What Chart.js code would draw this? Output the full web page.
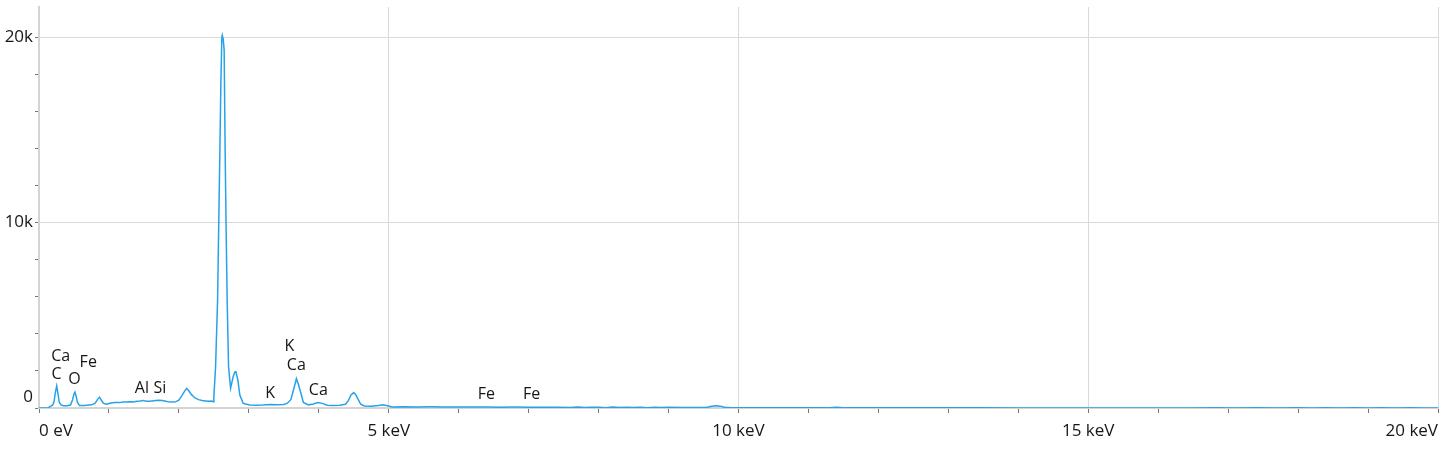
<!DOCTYPE html>
<html>
<head>
<meta charset="utf-8">
<script src="https://cdn.jsdelivr.net/npm/chart.js@4/dist/chart.umd.min.js"></script>
<style>
html,body{margin:0;padding:0;background:#fff;}
#c{display:block;}
</style>
</head>
<body>
<canvas id="c" width="1445" height="450"></canvas>
<script>
// Spectrum: energy (keV) and counts
const energies = [
 0.00,0.05,0.10,0.14,0.15,0.17,0.195,0.215,0.235,0.253,0.270,0.290,0.315,0.35,0.40,
 0.45,0.48,0.50,0.514,0.53,0.55,0.58,0.65,0.75,0.80,0.84,0.865,0.89,0.92,0.96,
 1.00,1.05,1.10,1.15,1.20,1.25,1.30,1.35,1.40,1.45,1.49,1.53,1.58,1.62,1.67,1.72,1.76,1.80,1.85,1.90,1.95,
 2.00,2.04,2.08,2.11,2.14,2.18,2.23,2.28,2.33,2.38,2.43,2.47,2.49,
 2.50,2.524,2.553,2.571,2.586,2.600,2.614,2.620,2.633,2.647,2.661,2.676,2.690,2.710,2.739,
 2.776,2.800,2.814,2.843,2.871,2.919,3.014,3.10,3.20,3.30,3.40,3.50,
 3.55,3.60,3.64,3.68,3.71,3.74,3.78,3.85,3.92,3.99,4.05,4.12,4.20,4.30,
 4.38,4.42,4.46,4.50,4.53,4.56,4.60,4.65,4.75,4.85,4.92,4.98,5.05,
 5.2,5.4,5.6,5.8,6.0,6.2,6.4,6.6,6.8,7.0,7.2,7.4,7.6,7.7,7.8,7.9,8.0,8.1,8.2,8.3,8.4,8.5,8.6,8.7,8.8,8.9,9.0,9.2,9.4,
 9.55,9.62,9.68,9.74,9.80,9.9,10.0,10.3,10.6,11.0,11.3,11.4,11.5,11.8,12.2,12.6,13.0,13.5,14.0,14.5,15.0,15.5,16.0,
 16.5,16.8,17.1,17.4,17.7,18.0,18.2,18.4,18.6,18.8,19.0,19.2,19.4,19.6,19.8,20.0
];
const counts = [
 0,0,0,0,60,100,150,350,850,1190,800,300,170,120,120,
 160,450,750,860,650,300,130,140,170,250,480,580,430,260,200,
 240,280,300,290,320,330,340,320,360,380,410,370,360,380,400,420,410,380,330,320,330,
 420,650,900,1060,930,720,540,450,400,380,360,380,340,
 600,2200,5800,10300,13900,17500,20000,20100,19900,19300,13900,9400,5800,2200,1070,
 1690,1950,1960,1500,700,250,160,150,160,190,170,190,
 260,450,1000,1580,1250,850,300,170,220,290,250,150,140,150,
 200,380,700,830,700,480,200,110,100,130,170,120,60,
 70,60,65,55,60,50,55,45,50,45,40,45,30,55,25,45,35,20,50,25,45,30,40,20,45,25,35,30,25,
 40,90,120,100,40,20,15,20,15,15,20,45,20,12,10,10,8,8,6,5,5,4,4,
 4,15,3,18,4,12,2,20,5,15,3,18,4,16,2,0
];

// Peak annotation labels
const peakLabels = ["Ca","C","O","Fe","Al","Si","K","K","Ca","Ca","Fe","Fe"];
const peakEnergies = [0.31,0.25,0.507,0.704,1.471,1.729,3.304,3.579,3.679,3.993,6.396,7.043];
const peakHeights = [2800,1800,1530,2480,1080,1080,810,3300,2320,970,750,750];

// Axis tick labels
const xTickValues = [0,5,10,15,20];
const xTickLabels = ["0 eV","5 keV","10 keV","15 keV","20 keV"];
const yTickValues = [0,10000,20000];
const yTickLabels = ["0","10k","20k"];
const yMinorStep = 2000;
const xMinorStep = 1;

const FONT = "'Open Sans', 'Noto Sans', sans-serif";
const TEXT = '#161616';

const peakLabelPlugin = {
  id: 'peakLabels',
  afterDatasetsDraw(chart) {
    const {ctx, scales} = chart;
    ctx.save();
    ctx.font = "16px " + FONT;
    ctx.fillStyle = TEXT;
    ctx.textAlign = 'center';
    ctx.textBaseline = 'middle';
    peakLabels.forEach((t, i) => {
      ctx.fillText(t, scales.x.getPixelForValue(peakEnergies[i]), scales.y.getPixelForValue(peakHeights[i]));
    });
    // zero label on the y axis sits slightly above its tick
    ctx.font = "17px " + FONT;
    ctx.textAlign = 'right';
    ctx.fillText(yTickLabels[0], scales.y.right - 6, scales.y.getPixelForValue(yTickValues[0]) - 11);
    ctx.restore();
  }
};

new Chart(document.getElementById('c'), {
  type: 'line',
  data: {
    datasets: [{
      data: energies.map((e, i) => ({x: e, y: counts[i]})),
      borderColor: '#27a2e8',
      borderWidth: 1.5,
      pointRadius: 0,
      tension: 0,
      fill: false
    }]
  },
  options: {
    responsive: false,
    animation: false,
    layout: {padding: {top: 7, right: 7, left: 0, bottom: 0}},
    plugins: {legend: {display: false}, tooltip: {enabled: false}},
    scales: {
      x: {
        type: 'linear',
        min: 0, max: 20,
        afterBuildTicks: s => {
          const t = [];
          for (let v = s.min; v <= s.max + 1e-9; v += xMinorStep) t.push({value: v});
          s.ticks = t;
        },
        afterFit: s => { s.height = 42; s.paddingLeft = 0; s.paddingRight = 0; },
        ticks: {
          autoSkip: false,
          maxRotation: 0,
          align: 'inner',
          padding: 8,
          color: TEXT,
          font: {family: FONT, size: 17},
          callback: v => { const k = xTickValues.indexOf(v); return k >= 0 ? xTickLabels[k] : ''; }
        },
        grid: {
          color: c => (c.tick && xTickValues.indexOf(c.tick.value) > 0) ? '#dadada' : 'rgba(0,0,0,0)',
          tickColor: '#777',
          tickLength: 5,
          lineWidth: 1
        },
        border: {color: '#d4d4d4', width: 2}
      },
      y: {
        type: 'linear',
        min: 0, max: 21620,
        afterBuildTicks: s => {
          const t = [];
          for (let v = 0; v <= yTickValues[yTickValues.length - 1]; v += yMinorStep) t.push({value: v});
          s.ticks = t;
        },
        afterFit: s => { s.width = 39; s.paddingTop = 0; s.paddingBottom = 0; },
        ticks: {
          autoSkip: false,
          padding: 2,
          color: TEXT,
          font: {family: FONT, size: 17},
          callback: v => { const k = yTickValues.indexOf(v); return (k > 0) ? yTickLabels[k] : ''; }
        },
        grid: {
          color: c => (c.tick && yTickValues.indexOf(c.tick.value) > 0) ? '#dadada' : 'rgba(0,0,0,0)',
          tickColor: '#777',
          tickLength: 4,
          lineWidth: 1
        },
        border: {color: '#d4d4d4', width: 2}
      }
    }
  },
  plugins: [peakLabelPlugin]
});
</script>
</body>
</html>
